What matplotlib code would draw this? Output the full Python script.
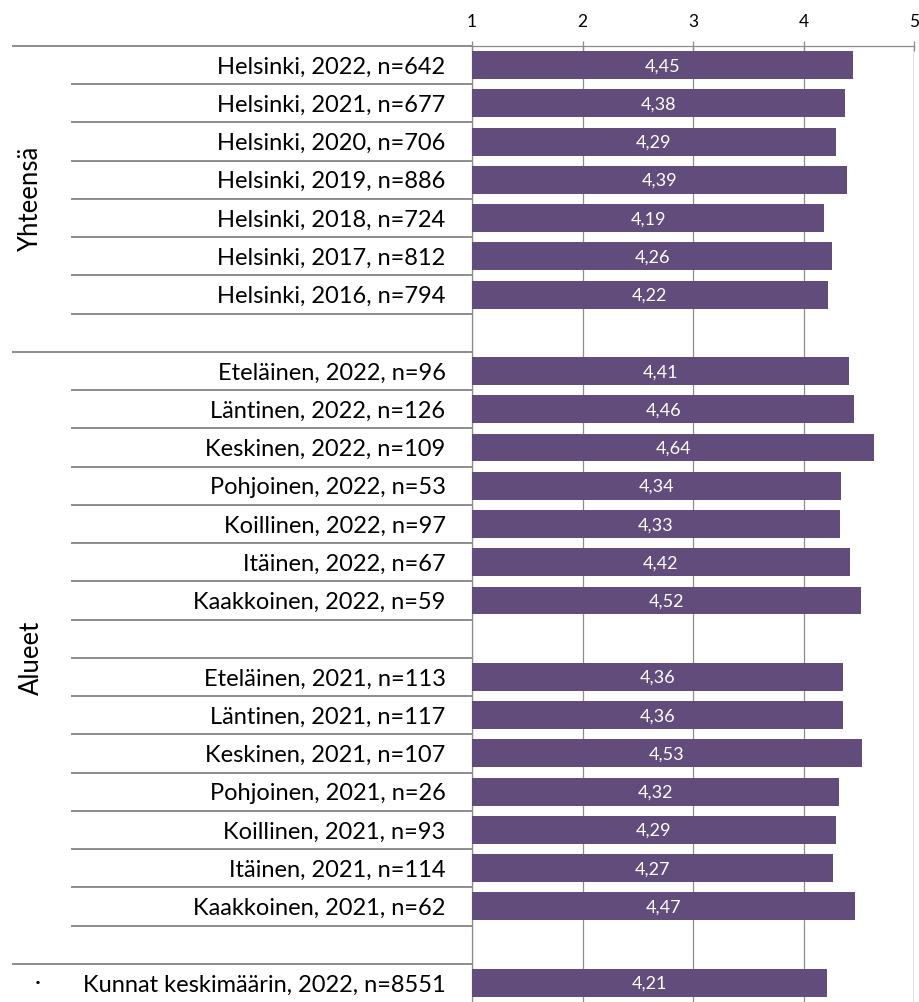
import numpy as np
import matplotlib
matplotlib.use('Agg')
import matplotlib.pyplot as plt
import matplotlib.transforms as mtransforms

plt.rcParams['font.family'] = ['Lato', 'DejaVu Sans']

# rows from top to bottom, '' = empty spacer row
categories = ['Helsinki, 2022, n=642', 'Helsinki, 2021, n=677', 'Helsinki, 2020, n=706',
              'Helsinki, 2019, n=886', 'Helsinki, 2018, n=724', 'Helsinki, 2017, n=812',
              'Helsinki, 2016, n=794', '',
              'Eteläinen, 2022, n=96', 'Läntinen, 2022, n=126', 'Keskinen, 2022, n=109',
              'Pohjoinen, 2022, n=53', 'Koillinen, 2022, n=97', 'Itäinen, 2022, n=67',
              'Kaakkoinen, 2022, n=59', '',
              'Eteläinen, 2021, n=113', 'Läntinen, 2021, n=117', 'Keskinen, 2021, n=107',
              'Pohjoinen, 2021, n=26', 'Koillinen, 2021, n=93', 'Itäinen, 2021, n=114',
              'Kaakkoinen, 2021, n=62', '',
              'Kunnat keskimäärin, 2022, n=8551']
values = [4.45, 4.38, 4.29, 4.39, 4.19, 4.26, 4.22, np.nan,
          4.41, 4.46, 4.64, 4.34, 4.33, 4.42, 4.52, np.nan,
          4.36, 4.36, 4.53, 4.32, 4.29, 4.27, 4.47, np.nan,
          4.21]
groups = ['Yhteensä', 'Alueet', '·']
group_sizes = [8, 16, 1]
x_ticks = [1, 2, 3, 4, 5]

bar_color = '#614C7C'
line_color = '#8C8C8C'

W, H = 919, 1002
fig = plt.figure(figsize=(W / 100, H / 100), dpi=100)
ax_left, ax_right, ax_top = 472, 914, 46
ax = fig.add_axes([ax_left / W, 0, (ax_right - ax_left) / W, (H - ax_top) / H])

n = len(categories)
ypos = np.arange(n)
vals = np.array(values, dtype=float)
mask = ~np.isnan(vals)
ax.barh(ypos[mask], vals[mask] - 1, left=1, height=0.73, color=bar_color, zorder=3)
for y, v in zip(ypos[mask], vals[mask]):
    ax.text(1 + (v - 1) / 2, y + 0.03, f'{v:.2f}'.replace('.', ','), color='white',
            ha='center', va='center', fontsize=13, zorder=4)

ax.set_xlim(1, 5)
ax.set_ylim(n - 0.5, -0.5)
ax.set_xticks(x_ticks)
ax.xaxis.tick_top()
ax.tick_params(axis='x', direction='inout', length=7, width=0.9, color=line_color,
               labelsize=12.5, pad=8)
ax.set_yticks(ypos)
ax.set_yticklabels(categories, fontsize=17)
ax.tick_params(axis='y', length=0, pad=19)
ax.grid(axis='x', color=line_color, linewidth=0.9, zorder=0)
for s in ['right', 'bottom']:
    ax.spines[s].set_visible(False)
for s in ['left', 'top']:
    ax.spines[s].set_color(line_color)
    ax.spines[s].set_linewidth(0.9)
ax.axvline(5, color=line_color, linewidth=0.9, zorder=0)

# separator lines in the label area
trans = mtransforms.blended_transform_factory(ax.transAxes, ax.transData)
row_x0 = (71 - ax_left) / (ax_right - ax_left)
grp_x0 = (12 - ax_left) / (ax_right - ax_left)
bounds = list(np.cumsum([0] + group_sizes[:-1]))
for b in range(0, n):
    x0 = grp_x0 if b in bounds else row_x0
    ax.plot([x0, 0], [b - 0.5, b - 0.5], transform=trans, color=line_color,
            linewidth=1.4, clip_on=False, solid_capstyle='butt')

# group labels
grp_x = (31 - ax_left) / (ax_right - ax_left)
dot_x = (38 - ax_left) / (ax_right - ax_left)
start = 0
for g, size in zip(groups, group_sizes):
    mid = start + size / 2 - 0.5
    if size > 1:
        ax.text(grp_x, mid, g, transform=trans, rotation=90,
                ha='center', va='center', fontsize=18.5)
    else:
        ax.text(dot_x, mid, g, transform=trans, ha='center', va='center', fontsize=17)
    start += size

fig.savefig('out.png', dpi=100)
